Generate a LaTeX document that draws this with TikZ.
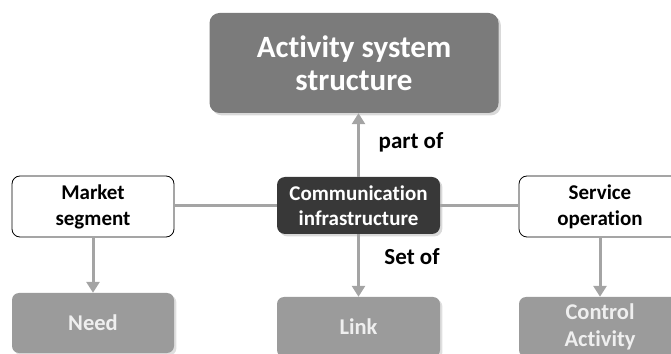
\documentclass[tikz,border=0pt]{standalone}
\usepackage{fontspec}
\setmainfont[Ligatures=NoCommon]{Carlito}
\usetikzlibrary{arrows.meta,shadows}

\definecolor{boxTop}{HTML}{7B7B7B}
\definecolor{boxCore}{HTML}{383838}
\definecolor{boxLeaf}{HTML}{9B9B9B}
\definecolor{leafText}{HTML}{EFEFEF}
\definecolor{lineGray}{HTML}{A4A4A4}

\begin{document}
\begin{tikzpicture}[x=1pt,y=1pt,>={Triangle[length=11pt,width=13pt]},
  topbox/.style={fill=boxTop,rounded corners=10pt,text=white,align=center,
    font=\fontsize{31}{33}\selectfont\bfseries,drop shadow={opacity=0.3}},
  corebox/.style={fill=boxCore,rounded corners=8pt,text=white,align=center,
    font=\fontsize{21}{25}\selectfont\bfseries,drop shadow={opacity=0.3}},
  sidebox/.style={draw=black,line width=0.8pt,fill=white,rounded corners=8pt,align=center,
    font=\fontsize{21}{26}\selectfont\bfseries},
  leafbox/.style={fill=boxLeaf,rounded corners=7pt,text=leafText,align=center,
    font=\fontsize{22.5}{27}\selectfont\bfseries,drop shadow={opacity=0.25}},
  link/.style={draw=lineGray,line width=3pt},
  relation/.style={font=\fontsize{23}{26}\selectfont\bfseries}]
  \useasboundingbox (0,0) rectangle (671,353);

  % top level
  \node[topbox,minimum width=289pt,minimum height=100pt] (activity) at (354,290) {Activity system\\structure};

  % middle row
  \node[corebox,minimum width=163pt,minimum height=57pt] (comm) at (358.5,147.5) {Communication\\infrastructure};
  \node[sidebox,minimum width=162pt,minimum height=61pt] (market) at (93,146.5) {Market\\segment};
  \node[sidebox,minimum width=162pt,minimum height=61pt] (service) at (600,146.5) {Service\\operation};

  % bottom row
  \node[leafbox,minimum width=162pt,minimum height=60pt] (need) at (93,30) {Need};
  \node[leafbox,minimum width=163pt,minimum height=60pt] (linkbox) at (358.5,26) {Link};
  \node[leafbox,minimum width=162pt,minimum height=60pt] (control) at (600,26) {Control\\Activity};

  % connectors
  \draw[link,->] (comm.north) -- (comm.north |- activity.south);
  \draw[link] (market.east |- comm) -- (comm.west);
  \draw[link] (comm.east) -- (service.west |- comm);
  \draw[link,->] (market.south) -- (need.north);
  \draw[link,->] (comm.south) -- (linkbox.north);
  \draw[link,->] (service.south) -- (control.north);

  \node[relation] (partof) at (411,211) {part of};
  \node[relation] (setof) at (412,96) {Set of};
\end{tikzpicture}
\end{document}
